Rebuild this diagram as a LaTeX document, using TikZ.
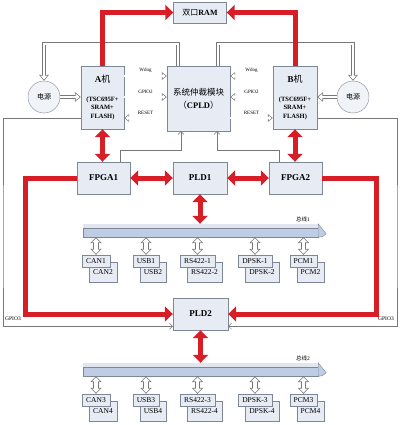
\documentclass[tikz,border=0pt]{standalone}
\usepackage{fontspec}
\setmainfont{Liberation Serif}
\newfontfamily\cjk{Noto Sans CJK SC}
\usetikzlibrary{arrows.meta,positioning}
\definecolor{boxfill}{RGB}{230,235,244}
\definecolor{boxline}{RGB}{125,135,150}
\definecolor{linkred}{RGB}{215,30,38}
\definecolor{pipegray}{RGB}{120,120,120}
\definecolor{busfront}{RGB}{190,205,228}
\definecolor{bustop}{RGB}{224,229,238}
\newcommand{\zh}[1]{{\cjk\mdseries#1}}

\begin{document}
\begin{tikzpicture}[x=1pt, y=-1pt,
    blk/.style={draw=boxline, fill=boxfill, font=\bfseries\fontsize{9}{10}\selectfont, inner sep=1pt},
    dev/.style={draw=boxline, fill=boxfill, font=\fontsize{7.5}{8}\selectfont, inner xsep=4pt, inner ysep=0pt, minimum height=12pt},
    pwr/.style={circle, draw=boxline, fill=boxfill!60, minimum size=32pt, font=\fontsize{7}{8}\selectfont},
    busbar/.style={draw=boxline, fill=busfront, minimum height=13pt, inner sep=0pt},
    redarr/.style={draw=linkred, line width=5pt, -{Triangle[length=8pt,width=15pt]}},
    redbi/.style={redarr, {Triangle[length=8pt,width=15pt]}-{Triangle[length=8pt,width=15pt]}},
    pipe/.style={draw=white, line width=2pt, shorten >=1.2pt, -{Triangle[length=4pt,width=6.5pt]},
        preaction={draw=pipegray, line width=3.4pt, shorten >=0pt, -{Triangle[length=6pt,width=9.5pt]}}},
    sig/.style={draw=white, line width=1.4pt, shorten >=1.1pt, -{Triangle[length=3.2pt,width=5pt]},
        preaction={draw=pipegray, line width=2.6pt, shorten >=0pt, -{Triangle[length=5pt,width=7.5pt]}}},
    busarr/.style={draw=white, line width=3.6pt, shorten >=1.2pt, shorten <=1.2pt,
        {Triangle[length=4pt,width=8pt]}-{Triangle[length=4pt,width=8pt]},
        preaction={draw=pipegray, line width=5.2pt, shorten >=0pt, shorten <=0pt,
        {Triangle[length=6pt,width=11pt]}-{Triangle[length=6pt,width=11pt]}}},
    thinln/.style={draw=pipegray, line width=0.5pt},
    lbl/.style={font=\fontsize{5}{6}\selectfont, inner sep=1pt}]

    \useasboundingbox (0,0) rectangle (400,425);

    % processors and arbiter
    \node[blk, minimum width=53pt, minimum height=21pt, font=\bfseries\fontsize{8}{9}\selectfont] (ram) at (200,12.5) {\zh{双口}RAM};
    \node[blk, minimum width=43pt, minimum height=63pt, align=center, font=\bfseries\fontsize{6.5}{8.5}\selectfont] (ma) at (102.5,97.5)
        {{\fontsize{9}{9}\selectfont A\zh{机}}\\[10pt](TSC695F+\\SRAM+\\FLASH)};
    \node[blk, minimum width=44pt, minimum height=63pt, align=center, font=\bfseries\fontsize{6.5}{8.5}\selectfont] (mb) at (295,97.5)
        {{\fontsize{9}{9}\selectfont B\zh{机}}\\[10pt](TSC695F+\\SRAM+\\FLASH)};
    \node[blk, minimum width=63pt, minimum height=65pt, align=center, font=\bfseries\fontsize{8.5}{13}\selectfont] (cpld) at (198.5,98.5)
        {\zh{系统仲裁模块}\\\zh{（}CPLD\zh{）}};
    \node[pwr] (pl) at (44,97) {\zh{电源}};
    \node[pwr] (pr) at (353,97) {\zh{电源}};

    % programmable logic
    \node[blk, minimum width=53pt, minimum height=32pt] (fpga1) at (103.5,178) {FPGA1};
    \node[blk, minimum width=54pt, minimum height=32pt] (pld1) at (200,178) {PLD1};
    \node[blk, minimum width=53pt, minimum height=32pt] (fpga2) at (295.5,178) {FPGA2};
    \node[blk, minimum width=55pt, minimum height=32pt] (pld2) at (200.5,314) {PLD2};

    % buses
    \node[busbar, minimum width=235pt] (bus1) at (200.5,230.5) {};
    \fill[bustop] (bus1.north west) rectangle ([yshift=-4pt]bus1.north east);
    \draw[boxline] ([yshift=-4pt]bus1.north west) -- ([yshift=-4pt]bus1.north east);
    \filldraw[draw=boxline, fill=busfront] (bus1.north east) -- ++(8,10) -- ++(-4,3) -- (bus1.south east) -- cycle;
    \node[lbl, font=\fontsize{5.5}{6}\selectfont] (b1lbl) at (303,219) {\zh{总线}1};

    \node[busbar, minimum width=235pt] (bus2) at (200.5,369.5) {};
    \fill[bustop] (bus2.north west) rectangle ([yshift=-4pt]bus2.north east);
    \draw[boxline] ([yshift=-4pt]bus2.north west) -- ([yshift=-4pt]bus2.north east);
    \filldraw[draw=boxline, fill=busfront] (bus2.north east) -- ++(8,10) -- ++(-4,3) -- (bus2.south east) -- cycle;
    \node[lbl, font=\fontsize{5.5}{6}\selectfont] (b2lbl) at (303,358) {\zh{总线}2};

    % devices on the buses
    \foreach \a/\b/\x [count=\i] in {CAN1/CAN2/96, USB1/USB2/146, RS422-1/RS422-2/197.5, DPSK-1/DPSK-2/255, PCM1/PCM2/303.5} {
        \node[dev, minimum height=20pt] (dev\i b) at (\x+7,272) {\b};
        \node[dev] (dev\i a) at (\x,261) {\a};
        \draw[busarr] (bus1.south -| dev\i a.north) -- (dev\i a.north);
    }
    \foreach \a/\b/\x [count=\i] in {CAN3/CAN4/96, USB3/USB4/146, RS422-3/RS422-4/197.5, DPSK-3/DPSK-4/255, PCM3/PCM4/303.5} {
        \node[dev, minimum height=20pt] (dew\i b) at (\x+7,411) {\b};
        \node[dev] (dew\i a) at (\x,400) {\a};
        \draw[busarr] (bus2.south -| dew\i a.north) -- (dew\i a.north);
    }

    % power and control lines
    \draw[pipe] ([xshift=-20.5pt]cpld.north) |- ([yshift=37pt]pl.north) -- (pl.north);
    \draw[pipe] ([xshift=19.5pt]cpld.north) |- ([yshift=37pt]pr.north) -- (pr.north);
    \draw[pipe] (pl) -- (pl -| ma.west);
    \draw[pipe] (pr) -- (pr -| mb.east);

    \draw[sig] (ma.east |- 0,76) -- (cpld.west |- 0,76) node[lbl, midway, above=1.5pt] {Wdog};
    \draw[sig] (ma.east |- 0,97) -- (cpld.west |- 0,97) node[lbl, midway, above=1.5pt] {GPIO2};
    \draw[sig] (cpld.west |- 0,118) -- (ma.east |- 0,118) node[lbl, midway, above=1.5pt] {RESET};
    \draw[sig] (mb.west |- 0,76) -- (cpld.east |- 0,76) node[lbl, midway, above=1.5pt] {Wdog};
    \draw[sig] (mb.west |- 0,97) -- (cpld.east |- 0,97) node[lbl, midway, above=1.5pt] {GPIO2};
    \draw[sig] (cpld.east |- 0,118) -- (mb.west |- 0,118) node[lbl, midway, above=1.5pt] {RESET};

    \coordinate (jl) at (181,150);
    \coordinate (jr) at (217,150);
    \draw[thinln, -{Straight Barb[length=3pt]}] ([xshift=16.5pt]fpga1.north) |- (jl) -- (jl |- cpld.south);
    \draw[thinln, -{Straight Barb[length=3pt]}] ([xshift=-16.5pt]fpga2.north) |- (jr) -- (jr |- cpld.south);

    \coordinate (lg) at (3,250);
    \coordinate (rg) at (397,250);
    \draw[thinln, -{Straight Barb[length=3pt]}] ([yshift=-20.5pt]ma.west) -| (lg) |- ([yshift=4pt]pld2.south west);
    \draw[thinln, -{Straight Barb[length=3pt]}] ([yshift=-20.5pt]mb.east) -| (rg) |- ([yshift=4pt]pld2.south east);
    \node[lbl, font=\fontsize{5.5}{6}\selectfont] (g3l) at (13,319) {GPIO3};
    \node[lbl, font=\fontsize{5.5}{6}\selectfont] (g3r) at (386,319) {GPIO3};

    % data paths
    \draw[redarr] (ma.north) |- (ram.west);
    \draw[redarr] (mb.north) |- (ram.east);
    \draw[redbi] (ma.south) -- (fpga1.north -| ma.south);
    \draw[redbi] (mb.south) -- (fpga2.north -| mb.south);
    \draw[redbi] (fpga1.east) -- (pld1.west);
    \draw[redbi] (pld1.east) -- (fpga2.west);
    \draw[redbi] (pld1.south) -- (bus1.north -| pld1.south);
    \draw[redbi] (pld2.south) -- (bus2.north -| pld2.south);
    \coordinate (lr) at (25,250);
    \coordinate (rr) at (376,250);
    \draw[redarr] (fpga1.west) -| (lr) |- (pld2.west);
    \draw[redarr] (fpga2.east) -| (rr) |- (pld2.east);
\end{tikzpicture}
\end{document}
